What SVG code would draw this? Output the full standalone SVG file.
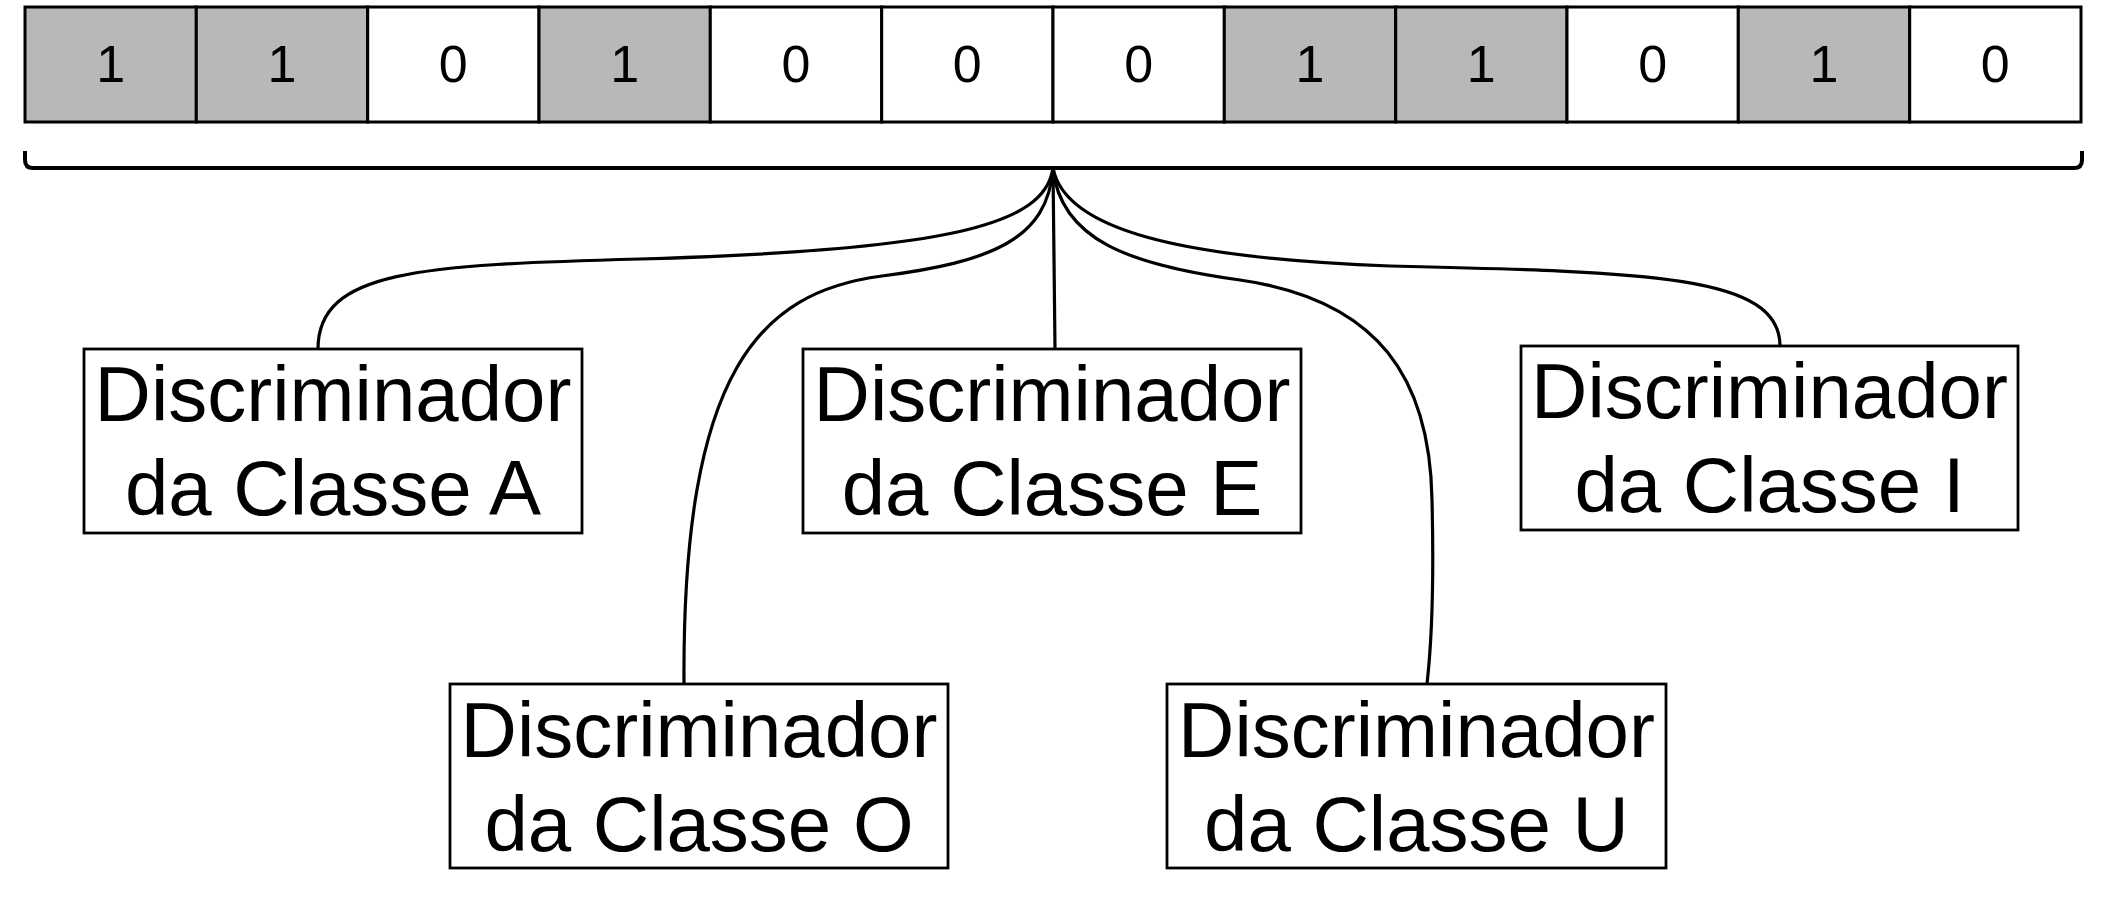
<svg xmlns="http://www.w3.org/2000/svg" width="2104" height="916" viewBox="0 0 2104 916">
<style>
.cell{stroke:#000;stroke-width:3}
.one{fill:#b8b8b8}
.zero{fill:#fff}
.dig{font-family:"Liberation Sans",Arial,sans-serif;font-size:52px;fill:#000;text-anchor:middle}
.box{fill:#fff;stroke:#000;stroke-width:2.8}
.lbl{font-family:"Liberation Sans",Arial,sans-serif;font-size:78px;fill:#000;text-anchor:middle}
.conn{fill:none;stroke:#000;stroke-width:3.2}
.brace{fill:none;stroke:#000;stroke-width:4}
</style>
<rect width="2104" height="916" fill="#fff"/>
<g id="bits">
<rect class="cell one" x="25" y="7" width="171.3" height="115"/>
<rect class="cell one" x="196.3" y="7" width="171.3" height="115"/>
<rect class="cell zero" x="367.7" y="7" width="171.3" height="115"/>
<rect class="cell one" x="539" y="7" width="171.3" height="115"/>
<rect class="cell zero" x="710.3" y="7" width="171.3" height="115"/>
<rect class="cell zero" x="881.7" y="7" width="171.3" height="115"/>
<rect class="cell zero" x="1053" y="7" width="171.3" height="115"/>
<rect class="cell one" x="1224.3" y="7" width="171.3" height="115"/>
<rect class="cell one" x="1395.7" y="7" width="171.3" height="115"/>
<rect class="cell zero" x="1567" y="7" width="171.3" height="115"/>
<rect class="cell one" x="1738.3" y="7" width="171.3" height="115"/>
<rect class="cell zero" x="1909.7" y="7" width="171.3" height="115"/>
<text class="dig" x="110.7" y="82">1</text>
<text class="dig" x="282" y="82">1</text>
<text class="dig" x="453.3" y="82">0</text>
<text class="dig" x="624.7" y="82">1</text>
<text class="dig" x="796" y="82">0</text>
<text class="dig" x="967.3" y="82">0</text>
<text class="dig" x="1138.7" y="82">0</text>
<text class="dig" x="1310" y="82">1</text>
<text class="dig" x="1481.3" y="82">1</text>
<text class="dig" x="1652.7" y="82">0</text>
<text class="dig" x="1824" y="82">1</text>
<text class="dig" x="1995.3" y="82">0</text>
</g>
<g id="brace">
<path class="brace" d="M25,151 L25,160 Q25,168 33,168 L2074,168 Q2082,168 2082,160 L2082,151"/>
</g>
<g id="connectors">
<path class="conn" d="M1053,168 C1045,225 950,250 640,259 C420,265 318,270 318,349"/>
<path class="conn" d="M1053,168 C1048,240 990,262 882,276 C760,292 682,370 684,684"/>
<path class="conn" d="M1053,168 L1055,349"/>
<path class="conn" d="M1053,168 C1060,240 1130,265 1240,280 C1380,300 1430,380 1432,500 C1434,580 1432,640 1427,684"/>
<path class="conn" d="M1053,168 C1065,230 1180,258 1390,266 C1650,272 1780,275 1780,346"/>
</g>
<g id="nodeA">
<rect class="box" x="84" y="349" width="498" height="184"/>
<text class="lbl" x="333" y="421">Discriminador</text>
<text class="lbl" x="333" y="515">da Classe A</text>
</g>
<g id="nodeE">
<rect class="box" x="803" y="349" width="498" height="184"/>
<text class="lbl" x="1052" y="421">Discriminador</text>
<text class="lbl" x="1052" y="515">da Classe E</text>
</g>
<g id="nodeI">
<rect class="box" x="1521" y="346" width="497" height="184"/>
<text class="lbl" x="1769.5" y="418">Discriminador</text>
<text class="lbl" x="1769.5" y="512">da Classe I</text>
</g>
<g id="nodeO">
<rect class="box" x="450" y="684" width="498" height="184"/>
<text class="lbl" x="699" y="757">Discriminador</text>
<text class="lbl" x="699" y="851">da Classe O</text>
</g>
<g id="nodeU">
<rect class="box" x="1167" y="684" width="499" height="184"/>
<text class="lbl" x="1416.5" y="757">Discriminador</text>
<text class="lbl" x="1416.5" y="851">da Classe U</text>
</g>
</svg>
